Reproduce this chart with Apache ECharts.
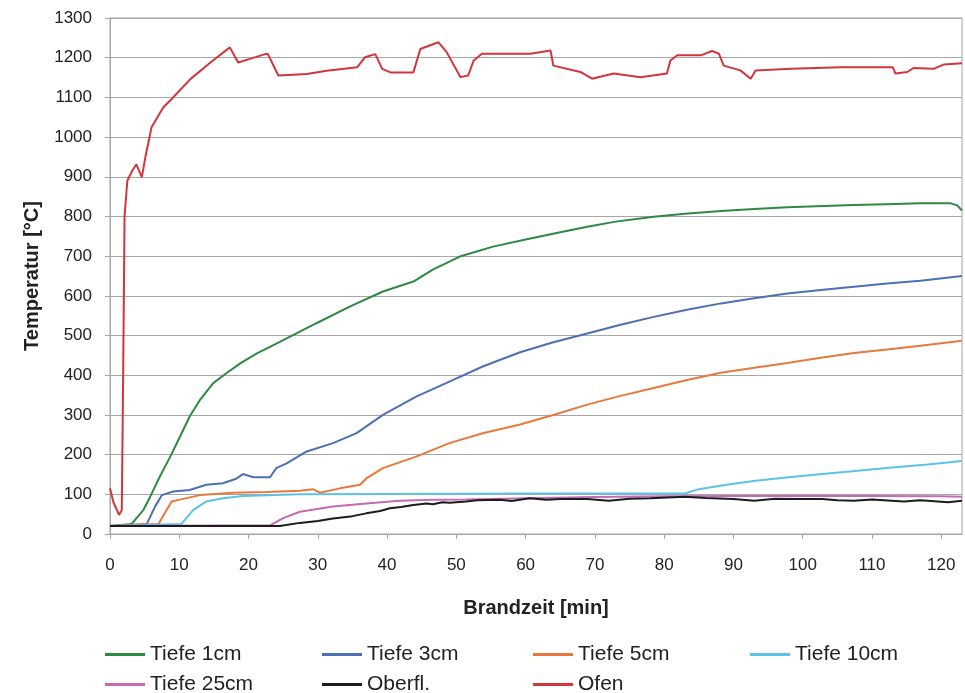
<!DOCTYPE html>
<html>
<head>
<meta charset="utf-8">
<script src="https://cdn.jsdelivr.net/npm/echarts@6/dist/echarts.min.js"></script>
<style>
  html, body { margin: 0; padding: 0; background: #fff; }
  #chart { width: 965px; height: 693px; }
</style>
</head>
<body>
<div id="chart"></div>
<script>
// tick labels
const xTicks = [0, 10, 20, 30, 40, 50, 60, 70, 80, 90, 100, 110, 120];

// Tiefe 1cm
const t1cm = [0, 3.1, 4.8, 5.8, 7.2, 8.7, 10.1, 11.5, 13, 14.9, 16.8, 18.8, 21.2, 23.6, 26, 29.8, 34.6, 39.4, 43.8, 46.6, 50.5, 55.3, 60, 65, 68.9, 73, 78.5, 83, 88.2, 93, 97.8, 102, 107.4, 112, 117, 121.4, 122.3, 123];
const v1cm = [20, 25, 60, 94, 145, 195, 245, 296, 338, 380, 405, 430, 455, 476, 497, 531, 573, 611, 636, 666, 699, 724, 742, 760, 774, 787, 799, 807, 814, 819, 823, 826, 829, 831, 833, 833, 828, 815];

// Tiefe 3cm
const t3cm = [0, 5.3, 6.5, 7.5, 9.1, 11.5, 13.9, 16.3, 18.3, 19.2, 20.7, 23.1, 24, 25.5, 28.4, 32.2, 35.6, 39.4, 44.2, 49, 53.8, 59.2, 64, 68.9, 73.7, 78.5, 83.3, 88.2, 93, 97.8, 102.6, 107.4, 112.2, 117, 123];
const v3cm = [20, 25, 69, 98, 107, 111, 124, 128, 140, 151, 143, 143, 166, 178, 208, 229, 254, 300, 346, 384, 422, 458, 483, 505, 527, 547, 565, 581, 594, 606, 615, 623, 631, 638, 650];

// Tiefe 5cm
const t5cm = [0, 7, 7.9, 8.9, 9.9, 13, 17.8, 22.6, 27.4, 29.3, 30.3, 33.2, 36.1, 37, 39.4, 44.2, 49, 53.8, 59.2, 64, 68.9, 73.7, 78.5, 83.3, 88.2, 93, 97.8, 102.6, 107.4, 112.2, 117, 123];
const v5cm = [20, 25, 52, 82, 86, 98, 104, 106, 109, 113, 104, 115, 124, 140, 166, 195, 229, 254, 276, 300, 326, 348, 368, 388, 406, 419, 431, 444, 456, 465, 474, 487];

// Tiefe 10cm
const t10cm = [0, 10.3, 12, 13.9, 16.3, 19.2, 27.4, 40, 60, 75, 83, 85, 89, 93.2, 98, 102.8, 107.6, 112.5, 118, 123];
const v10cm = [20, 25, 60, 82, 90, 96, 100, 101, 102, 102, 102, 113, 124, 134, 143, 151, 159, 167, 175, 184];

// Tiefe 25cm
const t25cm = [0, 23.1, 25, 27.4, 32.2, 37, 41.8, 46.6, 51.4, 60, 70, 80, 90, 100, 110, 120, 123];
const v25cm = [20, 22, 40, 56, 69, 77, 84, 86, 87, 90, 93, 95, 96, 96, 96, 95, 94];

// Oberfl.
const tOber = [0, 24.5, 27.4, 30, 32.2, 35, 37, 39, 40.4, 42, 43.8, 45.7, 46.6, 48, 49, 51.4, 53, 56.3, 58, 60.6, 63, 65, 68.9, 72, 75, 78, 83, 86, 90, 93, 96, 100, 102.8, 105, 107.4, 110, 114.6, 117, 121, 123];
const vOber = [20, 20, 28, 33, 39, 45, 52, 58, 65, 68, 73, 77, 75, 80, 79, 82, 85, 86, 83, 90, 86, 88, 88, 84, 89, 90, 94, 91, 88, 84, 89, 88, 88, 85, 84, 87, 82, 85, 80, 84];

// Ofen
const tOfen = [0, 0.5, 1.3, 1.7, 1.9, 2.1, 2.5, 3.2, 3.8, 4.6, 5.1, 6.0, 7.7, 8.9, 11.6, 14.5, 17.3, 18.5, 20.2, 22.4, 22.8, 24.3, 28.4, 31.3, 35.7, 36.8, 38.3, 39.3, 40.5, 43.8, 44.8, 47.4, 48.6, 50.6, 51.7, 52.5, 53.7, 60.7, 63.6, 64, 67.9, 69.6, 72.7, 76.6, 80.4, 80.9, 81.9, 85.3, 86.9, 87.9, 88.6, 91, 92.5, 93.2, 98.3, 105.5, 113, 113.4, 115.1, 116, 118.9, 120.4, 123];
const vOfen = [115, 80, 48, 60, 400, 800, 890, 915, 931, 899, 949, 1025, 1075, 1096, 1146, 1188, 1226, 1188, 1197, 1209, 1209, 1155, 1159, 1167, 1176, 1201, 1209, 1172, 1163, 1163, 1222, 1239, 1214, 1151, 1155, 1193, 1210, 1210, 1218, 1180, 1164, 1147, 1160, 1151, 1160, 1193, 1206, 1206, 1217, 1210, 1180, 1168, 1147, 1168, 1172, 1176, 1176, 1160, 1164, 1174, 1172, 1183, 1186];

const zip = (xs, ys) => xs.map((x, i) => [x, ys[i]]);

const font = 'Liberation Sans, Arial, sans-serif';
const gridColor = '#a6a6a6';

function line(name, xs, ys, color) {
  return {
    name: name,
    type: 'line',
    data: zip(xs, ys),
    symbol: 'none',
    lineStyle: { color: color, width: 2 },
    itemStyle: { color: color },
    animation: false
  };
}

// one legend per entry so the 4x2 columns line up like the original
function legendItem(name, left, top) {
  return {
    data: [name],
    left: left,
    top: top,
    icon: 'rect',
    itemWidth: 40,
    itemHeight: 3,
    padding: 0,
    textStyle: { fontFamily: font, fontSize: 21, color: '#222' }
  };
}

const chart = echarts.init(document.getElementById('chart'));

chart.setOption({
  backgroundColor: '#fff',
  grid: {
    left: 110,
    right: 3,
    top: 18,
    bottom: 159,
    show: true,
    borderColor: gridColor,
    borderWidth: 1
  },
  legend: [
    legendItem('Tiefe 1cm', 105, 644),
    legendItem('Tiefe 3cm', 322, 644),
    legendItem('Tiefe 5cm', 533, 644),
    legendItem('Tiefe 10cm', 750, 644),
    legendItem('Tiefe 25cm', 105, 674),
    legendItem('Oberfl.', 322, 674),
    legendItem('Ofen', 533, 674)
  ],
  xAxis: {
    type: 'value',
    min: 0,
    max: 123,
    interval: 10,
    name: 'Brandzeit [min]',
    nameLocation: 'middle',
    nameGap: 64,
    nameTextStyle: { fontFamily: font, fontSize: 20, fontWeight: 'bold', color: '#222' },
    axisLine: { lineStyle: { color: gridColor } },
    axisTick: { show: true, length: 5, lineStyle: { color: gridColor }, customValues: xTicks },
    axisLabel: { fontFamily: font, fontSize: 17, color: '#222', margin: 23, customValues: xTicks },
    splitLine: { show: false }
  },
  yAxis: {
    type: 'value',
    min: 0,
    max: 1300,
    interval: 100,
    name: 'Temperatur [°C]',
    nameLocation: 'middle',
    nameGap: 68,
    nameTextStyle: { fontFamily: font, fontSize: 20, fontWeight: 'bold', color: '#222' },
    axisLine: { show: true, lineStyle: { color: gridColor } },
    axisTick: { show: true, length: 5, lineStyle: { color: gridColor } },
    axisLabel: { fontFamily: font, fontSize: 17, color: '#222', margin: 18, formatter: v => String(v) },
    splitLine: { show: true, lineStyle: { color: gridColor, width: 1 } }
  },
  series: [
    line('Tiefe 1cm', t1cm, v1cm, '#2e8a43'),
    line('Tiefe 3cm', t3cm, v3cm, '#4d6fb3'),
    line('Tiefe 5cm', t5cm, v5cm, '#e8793c'),
    line('Tiefe 10cm', t10cm, v10cm, '#5cc3e6'),
    line('Tiefe 25cm', t25cm, v25cm, '#c56ab4'),
    line('Oberfl.', tOber, vOber, '#1c1c1c'),
    line('Ofen', tOfen, vOfen, '#d3353c')
  ]
});
</script>
</body>
</html>
